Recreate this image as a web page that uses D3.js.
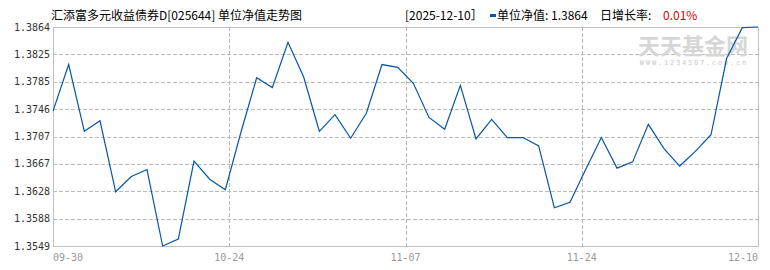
<!DOCTYPE html>
<html>
<head>
<meta charset="utf-8">
<script src="https://cdn.jsdelivr.net/npm/d3@7"></script>
<style>
	body { margin: 0; background: #fff; }
	svg { display: block; }
</style>
</head>
<body>
<svg width="770" height="270"></svg>
<script>
var fundName = "汇添富多元收益债券D[025644] 单位净值走势图";
var dayGrowth = "0.01%";

var dates = ["2025-09-30","2025-10-09","2025-10-10","2025-10-13","2025-10-14","2025-10-15","2025-10-16","2025-10-17",
	"2025-10-20","2025-10-21","2025-10-22","2025-10-23","2025-10-24","2025-10-27","2025-10-28","2025-10-29",
	"2025-10-30","2025-10-31","2025-11-03","2025-11-04","2025-11-05","2025-11-06","2025-11-07","2025-11-10",
	"2025-11-11","2025-11-12","2025-11-13","2025-11-14","2025-11-17","2025-11-18","2025-11-19","2025-11-20",
	"2025-11-21","2025-11-24","2025-11-25","2025-11-26","2025-11-27","2025-11-28","2025-12-01","2025-12-02",
	"2025-12-03","2025-12-04","2025-12-05","2025-12-08","2025-12-09","2025-12-10"];

var navValues = [1.3743, 1.3810, 1.3714, 1.3729, 1.3627, 1.3649, 1.3659, 1.3549, 1.3559, 1.3671,
	1.3645, 1.3630, 1.3713, 1.3791, 1.3777, 1.3842, 1.3792, 1.3714, 1.3738, 1.3704,
	1.3740, 1.3810, 1.3806, 1.3783, 1.3734, 1.3717, 1.3780, 1.3703, 1.3731, 1.3705,
	1.3705, 1.3693, 1.3604, 1.3612, 1.3659, 1.3705, 1.3661, 1.3670, 1.3724, 1.3689,
	1.3664, 1.3685, 1.3709, 1.3819, 1.3863, 1.3864];

var xTickLabels = ["09-30", "10-24", "11-07", "11-24", "12-10"];
var yTickLabels = ["1.3549", "1.3588", "1.3628", "1.3667", "1.3707", "1.3746", "1.3785", "1.3825", "1.3864"];

var svg = d3.select("svg"),
	plotLeft = 53, plotRight = 758, plotTop = 27, plotBottom = 246;

var monoFont = "'DejaVu Sans Mono', monospace";
var cjkFont = "'Noto Sans CJK SC', sans-serif";
var lineColor = "#0556a8";
var gridColor = "#bbbbbb";

var x = d3.scaleLinear()
	.domain([0, navValues.length - 1])
	.range([plotLeft, plotRight]);

var y = d3.scaleLinear()
	.domain(d3.extent(navValues))
	.range([plotBottom, plotTop]);

var yDomain = y.domain();

//horizontal grid + y labels (evenly split domain)
var yPos = yTickLabels.map(function(d, i) {
	return y(yDomain[0] + i * (yDomain[1] - yDomain[0]) / (yTickLabels.length - 1));
});

svg.append("g")
	.selectAll("line")
	.data(yPos.slice(1, -1))
	.enter().append("line")
		.attr("x1", plotLeft).attr("x2", plotRight)
		.attr("y1", function(d) { return Math.round(d) + 0.5; })
		.attr("y2", function(d) { return Math.round(d) + 0.5; })
		.attr("stroke", gridColor)
		.attr("stroke-dasharray", "4,2");

svg.append("g")
	.selectAll("text")
	.data(yTickLabels)
	.enter().append("text")
		.attr("x", plotLeft - 3)
		.attr("y", function(d, i) { return yPos[i]; })
		.attr("dy", "0.35em")
		.attr("text-anchor", "end")
		.style("font", "10px " + monoFont)
		.attr("fill", "#333")
		.text(function(d) { return d; });

//vertical grid + x labels (4 equal parts)
var xPos = xTickLabels.map(function(d, i) {
	return x(i * (navValues.length - 1) / (xTickLabels.length - 1));
});

svg.append("g")
	.selectAll("line")
	.data(xPos.slice(1, -1))
	.enter().append("line")
		.attr("x1", function(d) { return Math.round(d) + 0.5; })
		.attr("x2", function(d) { return Math.round(d) + 0.5; })
		.attr("y1", plotTop).attr("y2", plotBottom)
		.attr("stroke", gridColor)
		.attr("stroke-dasharray", "4,2");

svg.append("g")
	.selectAll("text")
	.data(xTickLabels)
	.enter().append("text")
		.attr("x", function(d, i) { return xPos[i]; })
		.attr("y", 261)
		.attr("text-anchor", function(d, i) { return i == 0 ? "start" : (i == xTickLabels.length - 1 ? "end" : "middle"); })
		.style("font", "10px " + monoFont)
		.attr("fill", "#999")
		.text(function(d) { return d; });

//frame
svg.append("rect")
	.attr("x", plotLeft + 0.5).attr("y", plotTop + 0.5)
	.attr("width", plotRight - plotLeft).attr("height", plotBottom - plotTop)
	.attr("fill", "none")
	.attr("stroke", "#c0c0c0");

//watermark
svg.append("text")
	.attr("x", 693).attr("y", 54)
	.attr("text-anchor", "middle")
	.style("font", "bold 22px " + cjkFont)
	.attr("fill", "#d6d6d6")
	.text("天天基金网");

svg.append("text")
	.attr("x", 694).attr("y", 65)
	.attr("text-anchor", "middle")
	.style("font", "7px " + monoFont)
	.style("letter-spacing", "1.8px")
	.attr("fill", "#c8c8c8")
	.text("WWW.1234567.com.cn");

//nav line
var line = d3.line()
	.x(function(d, i) { return x(i); })
	.y(function(d) { return y(d); });

svg.append("path")
	.datum(navValues)
	.attr("d", line)
	.attr("fill", "none")
	.attr("stroke", lineColor)
	.attr("stroke-width", 1.2);

//header
svg.append("text")
	.attr("x", 51).attr("y", 20)
	.style("font", "12px " + cjkFont)
	.attr("fill", "#000")
	.text(fundName);

var lastIdx = navValues.length - 1;

svg.append("text")
	.attr("x", 405).attr("y", 20)
	.style("font", "12px " + cjkFont)
	.attr("fill", "#000")
	.text("[" + dates[lastIdx] + "］");

svg.append("rect")
	.attr("x", 490).attr("y", 14)
	.attr("width", 6).attr("height", 3)
	.attr("fill", lineColor);

svg.append("text")
	.attr("x", 497).attr("y", 20)
	.style("font", "12px " + cjkFont)
	.attr("fill", "#000")
	.text("单位净值: " + navValues[lastIdx].toFixed(4));

svg.append("text")
	.attr("x", 600).attr("y", 20)
	.style("font", "12px " + cjkFont)
	.attr("fill", "#000")
	.text("日增长率:");

svg.append("text")
	.attr("x", 663).attr("y", 20)
	.style("font", "12px " + cjkFont)
	.attr("fill", "#e00000")
	.text(dayGrowth);
</script>
</body>
</html>
